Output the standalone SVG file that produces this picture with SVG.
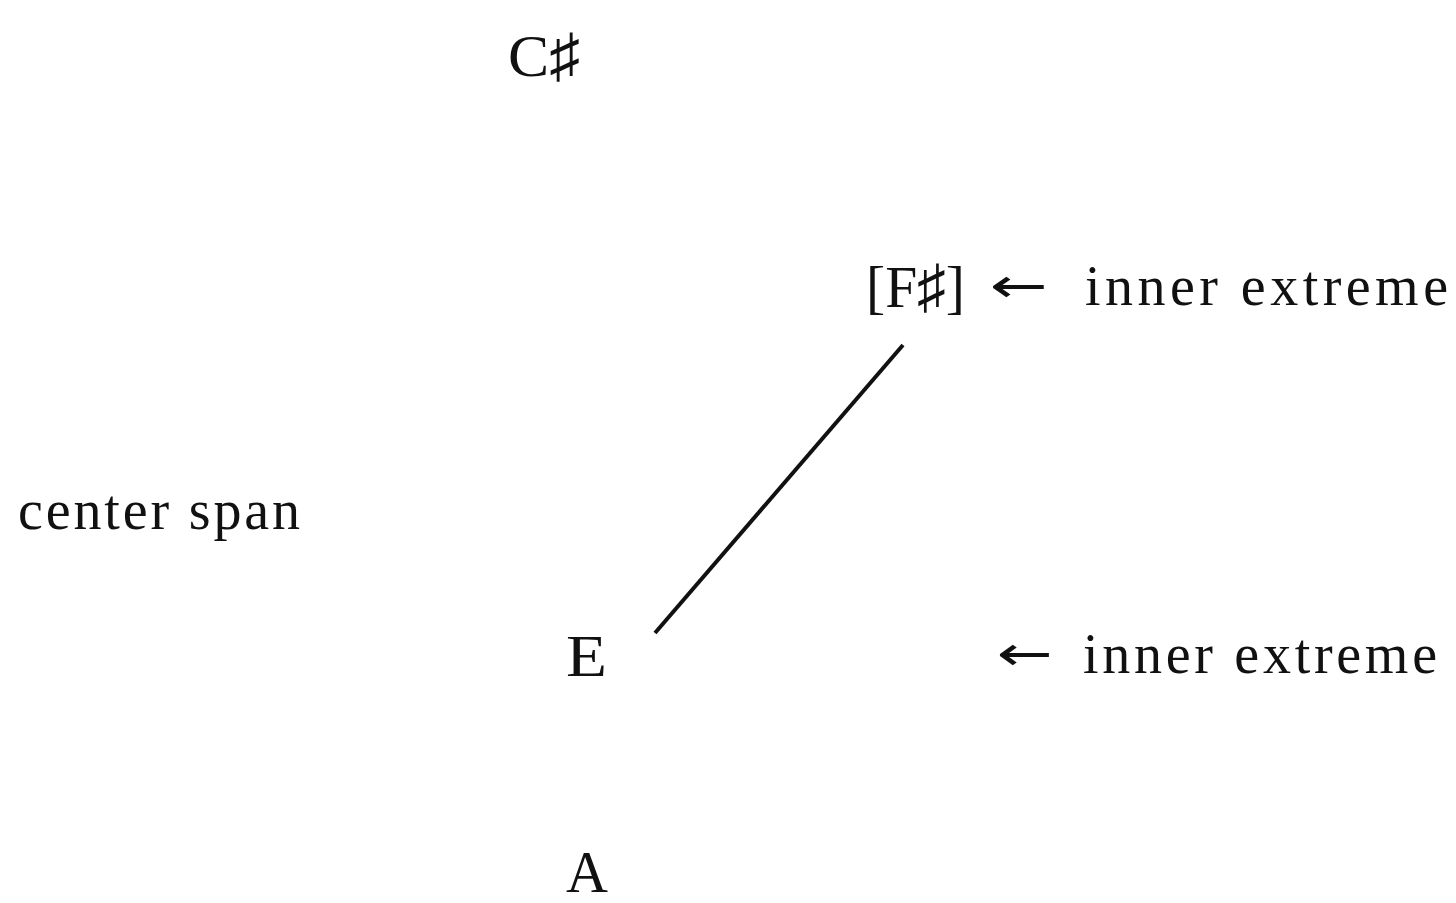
<svg xmlns="http://www.w3.org/2000/svg" width="1456" height="903" viewBox="0 0 1456 903">
<style>
text{font-family:"Liberation Serif","DejaVu Serif",serif;font-size:56px;fill:#111}
.n{font-size:60px}
.ar{font-family:"DejaVu Sans",sans-serif;font-size:48px}
.c{stroke:#111;stroke-width:4;fill:none}
</style>
<rect width="1456" height="903" fill="#fff"/>
<g id="nodeCsharp"><text class="n" x="508" y="76" textLength="72" lengthAdjust="spacingAndGlyphs">C♯</text></g>
<g id="nodeFsharp"><text class="n" x="866" y="307" textLength="99" lengthAdjust="spacingAndGlyphs">[F♯]</text></g>
<g id="label1"><text class="ar" x="990" y="302" textLength="58" lengthAdjust="spacingAndGlyphs">←</text><text x="1085" y="305" textLength="363" lengthAdjust="spacing">inner  extreme</text></g>
<g id="labelCenter"><text x="18" y="529" textLength="282" lengthAdjust="spacing">center span</text></g>
<g id="nodeE"><text class="n" x="566" y="676" textLength="41" lengthAdjust="spacingAndGlyphs">E</text></g>
<g id="label2"><text class="ar" x="997" y="670" textLength="56" lengthAdjust="spacingAndGlyphs">←</text><text x="1083" y="673" textLength="354" lengthAdjust="spacing">inner extreme</text></g>
<g id="nodeA"><text class="n" x="566" y="892" textLength="42" lengthAdjust="spacingAndGlyphs">A</text></g>
<g id="connectors"><line class="c" x1="903" y1="345" x2="655" y2="633"/></g>
</svg>
